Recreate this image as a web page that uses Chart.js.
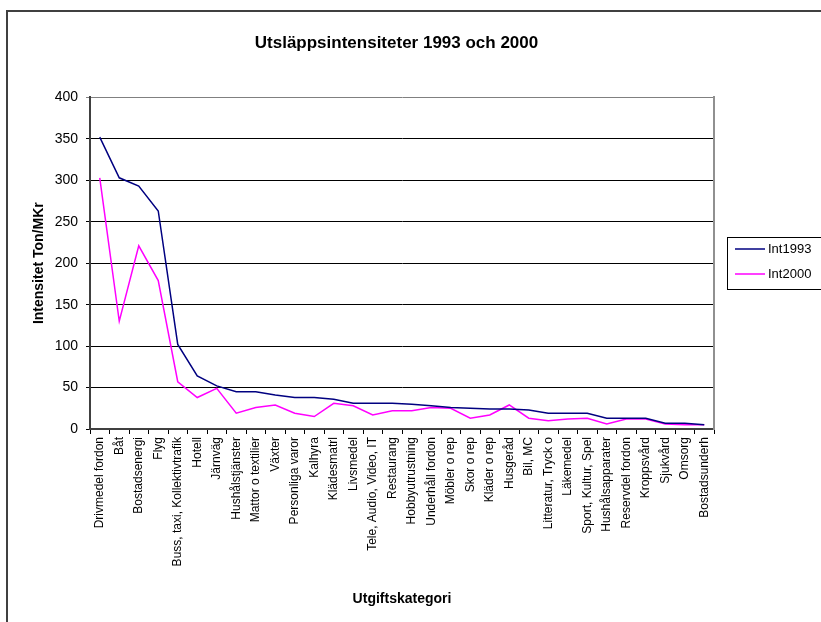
<!DOCTYPE html>
<html>
<head>
<meta charset="utf-8">
<title>Utsläppsintensiteter 1993 och 2000</title>
<script src="https://cdn.jsdelivr.net/npm/chart.js"></script>
<style>
    body { margin: 0; background: #fff; }
    #grafico_box { position: relative; width: 821px; height: 622px; }
</style>
</head>
<body>
<div id="grafico_box">
    <canvas id="grafico" width="821" height="622"></canvas>
</div>
<script>
// Kategorier (x-axeln)
let kategorier = [
    "Drivmedel fordon", "Båt", "Bostadsenergi", "Flyg", "Buss, taxi, Kollektivtrafik",
    "Hotell", "Järnväg", "Hushålstjänster", "Mattor o textilier", "Växter",
    "Personliga varor", "Kalhyra", "Klädesmatrl", "Livsmedel", "Tele, Audio, Video, IT",
    "Restaurang", "Hobbyutrustning", "Underhåll fordon", "Möbler o rep", "Skor o rep",
    "Kläder o rep", "Husgeråd", "Bil, MC", "Litteratur, Tryck o", "Läkemedel",
    "Sport, Kultur, Spel", "Hushålsapparater", "Reservdel fordon", "Kroppsvård", "Sjukvård",
    "Omsorg", "Bostadsunderh"
]
// Värden (Ton/MKr)
let int1993 = [352, 303, 293, 263, 102, 64, 52, 45, 45, 41, 38, 38, 36, 31, 31, 31, 30, 28, 26, 25, 24, 24, 23, 19, 19, 19, 13, 13, 13, 7, 7, 5]
let int2000 = [303, 130, 221, 179, 57, 38, 49, 19, 26, 29, 19, 15, 31, 28, 17, 22, 22, 26, 25, 13, 17, 29, 13, 10, 12, 13, 6, 12, 12, 6, 5, 5]
let serieNamn = ["Int1993", "Int2000"]
let yMin = 0
let yMax = 400
let ySteg = 50

let titel = "Utsläppsintensiteter 1993 och 2000"
let yTitel = "Intensitet Ton/MKr"
let xTitel = "Utgiftskategori"

Chart.defaults.font.family = "'Liberation Sans', Arial, sans-serif"
Chart.defaults.color = "#000"

// ram runt hela diagrammet + egen legend med ram
const ramPlugin = {
    id: "ram",
    beforeDraw(chart) {
        let ctx = chart.ctx
        ctx.save()
        ctx.strokeStyle = "#404040"
        ctx.lineWidth = 2
        ctx.strokeRect(7, 11, 1000, 1000)
        ctx.restore()
    },
    afterDraw(chart) {
        let ctx = chart.ctx
        let area = chart.chartArea
        let x = area.right + 13
        let y = Math.round((area.top + area.bottom) / 2) - 26
        ctx.save()
        ctx.strokeStyle = "#000"
        ctx.lineWidth = 1
        ctx.strokeRect(x + 0.5, y + 0.5, 120, 52)
        ctx.font = "13px 'Liberation Sans', Arial, sans-serif"
        ctx.textBaseline = "middle"
        ctx.fillStyle = "#000"
        chart.data.datasets.forEach(function(ds, i) {
            let ly = y + 12 + i * 25
            ctx.strokeStyle = ds.borderColor
            ctx.lineWidth = 1.5
            ctx.beginPath()
            ctx.moveTo(x + 8, ly)
            ctx.lineTo(x + 38, ly)
            ctx.stroke()
            ctx.fillText(ds.label, x + 41, ly)
        })
        ctx.restore()
    }
}

const ctx = document.getElementById("grafico").getContext("2d")
const grafico = new Chart(ctx, {
    type: "line",
    data: {
        labels: kategorier,
        datasets: [
            { label: serieNamn[0], data: int1993, borderColor: "#000080", backgroundColor: "#000080", borderWidth: 1.5, pointRadius: 0, tension: 0, yAxisID: "y" },
            { label: serieNamn[1], data: int2000, borderColor: "#FF00FF", backgroundColor: "#FF00FF", borderWidth: 1.5, pointRadius: 0, tension: 0, yAxisID: "y" }
        ]
    },
    options: {
        responsive: false,
        animation: false,
        layout: { padding: { left: 0, right: 28, top: 0, bottom: 0 } },
        plugins: {
            legend: { display: false },
            tooltip: { enabled: false },
            title: {
                display: true, text: titel, color: "#000",
                font: { size: 17, weight: "bold" },
                padding: { top: 33, bottom: 44 }
            }
        },
        scales: {
            x: {
                offset: true,
                grid: { offset: true, drawOnChartArea: false, drawTicks: true, tickLength: 5, color: "#000" },
                border: { color: "#404040", width: 2 },
                ticks: { autoSkip: false, minRotation: 90, maxRotation: 90, padding: 3, font: { size: 12 }, color: "#000" },
                title: { display: true, text: xTitel, font: { size: 14, weight: "bold" }, padding: { top: 0, bottom: 14 } },
                afterFit: function(scale) { scale.height = 193 }
            },
            y: {
                min: yMin, max: yMax,
                ticks: { stepSize: ySteg, padding: 8, font: { size: 14 }, color: "#000" },
                grid: {
                    tickLength: 4,
                    color: function(c) { return (c.tick && c.tick.value === yMax) ? "#808080" : "#000" }
                },
                border: { color: "#404040", width: 2 },
                title: { display: true, text: yTitel, font: { size: 14, weight: "bold" }, padding: { top: 31, bottom: 0 } },
                afterFit: function(scale) { scale.width = 90 }
            },
            y2: {
                position: "right",
                min: yMin, max: yMax,
                ticks: { display: false },
                grid: { drawOnChartArea: false, drawTicks: false },
                border: { color: "#909090", width: 2 },
                afterFit: function(scale) { scale.width = 79 }
            }
        }
    },
    plugins: [ramPlugin]
})
</script>
</body>
</html>
